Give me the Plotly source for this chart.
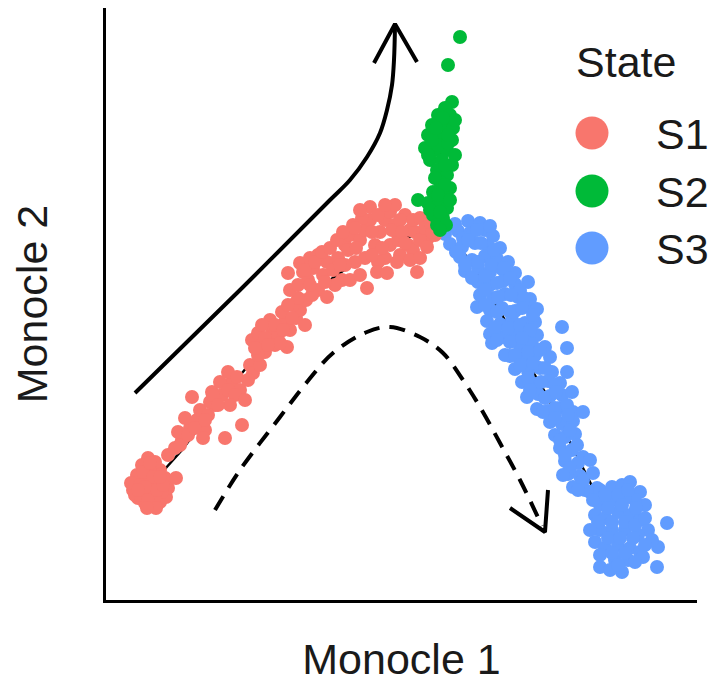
import plotly.graph_objects as go

# ---------------- data (Monocle 1 / Monocle 2 coordinates) ----------------
states = ["S1", "S2", "S3"]
state_colors = ["#F8766D", "#00BA38", "#619CFF"]

s1_x = [33, 38, 45, 52, 60, 66, 68, 65, 60, 55, 48, 42, 37, 31, 45, 52, 58, 47, 40, 50, 62, 55, 43, 53, 35, 76,
        40, 48, 57, 63, 50, 45, 38, 60, 56, 47,
        68, 75, 82, 78, 90, 97, 85, 92, 100, 105, 108, 115, 112, 103,
        80, 88, 95, 105, 110, 122, 132, 140, 128, 150,
        113, 120, 128, 135, 145, 130, 118, 142, 125, 153, 160, 148, 137,
        152, 158, 162, 168, 172, 178, 185, 190, 196, 200, 205, 187, 165, 175, 158, 182, 193, 206, 170, 162,
        155, 165, 175, 183, 192, 180, 168, 198, 188,
        188, 190, 198, 203, 208, 213, 218, 212, 223, 227, 233, 227, 238, 242, 235, 218, 200, 210,
        245, 250, 253, 260, 265, 270, 270, 275, 280, 285, 290, 295, 295, 290, 285, 278, 265, 255, 250, 267,
        277, 287, 260, 245, 298, 300, 305, 310,
        205, 215, 222, 230, 237, 243, 248, 256, 262, 272, 278, 282, 292, 300, 302, 308, 315, 323, 328, 335,
        297, 272, 240, 225, 210, 255, 285, 260,
        313, 320, 317, 313, 320, 327, 325, 332, 338, 330, 310, 320, 305]
s1_y = [110, 102, 97, 95, 98, 103, 112, 122, 130, 138, 142, 135, 125, 117, 120, 110, 117, 108, 115, 130, 108, 103, 128, 123, 105, 122,
        105, 100, 110, 115, 137, 113, 110, 123, 92, 92,
        145, 152, 160, 168, 172, 180, 182, 203, 190, 170, 185, 195, 208, 162,
        155, 165, 172, 180, 198, 205, 218, 210, 228, 235,
        205, 218, 210, 205, 200, 195, 195, 175, 162, 227, 235, 220, 223,
        260, 267, 255, 262, 272, 265, 278, 270, 282, 290, 275, 253, 248, 255, 245, 288, 295, 300, 280, 275,
        252, 262, 275, 270, 282, 257, 255, 302, 295,
        327, 310, 315, 328, 320, 332, 310, 305, 325, 338, 330, 303, 342, 320, 315, 345, 337, 342,
        355, 365, 375, 360, 370, 380, 393, 355, 368, 380, 388, 395, 375, 355, 342, 338, 342, 338, 320, 312,
        328, 327, 325, 335, 360, 345, 385, 370,
        330, 338, 348, 352, 360, 368, 350, 352, 382, 368, 385, 352, 370, 380, 368, 355, 368, 365, 362, 365,
        338, 345, 335, 318, 315, 372, 395, 390,
        380, 382, 328, 350, 360, 353, 372, 368, 370, 378, 340, 342, 357]

s2_x = [360, 348, 352, 345, 338, 350, 332, 344, 353, 328, 340, 352, 325, 335, 347, 355, 330, 342, 352,
        337, 347, 340, 350, 333, 343, 318, 328, 338, 347, 333, 343, 337, 346, 340,
        338, 348, 332, 345, 335, 345, 338, 330, 340, 355, 343, 336, 348, 328, 350]
s2_y = [563, 535, 498, 492, 485, 485, 475, 475, 472, 465, 462, 460, 452, 450, 450, 445, 440, 440, 435,
        430, 425, 418, 412, 408, 405, 400, 397, 395, 392, 385, 382, 375, 375, 370,
        455, 457, 460, 435, 422, 415, 405, 390, 388, 480, 482, 472, 465, 445, 400]

s3_x = [355, 368, 380, 345, 358, 370, 385, 393, 350, 362, 375, 388, 400, 360, 372, 385, 397, 408,
        365, 378, 390, 402, 415, 378, 390, 403, 415, 428, 380, 393, 405, 418, 430,
        377, 390, 402, 415, 428, 437, 387, 400, 412, 425, 435, 390, 403, 415, 427, 437,
        392, 420, 432, 445, 462, 467, 410, 423, 435, 450, 415, 428, 440, 452, 467,
        422, 435, 448, 460, 427, 438, 450, 462, 472, 437, 448, 460, 473, 483,
        450, 462, 473, 455, 465, 475, 460, 472, 483, 465, 478, 490, 468, 480, 493, 473, 485, 497,
        350, 363, 377, 390, 356, 368, 381, 394, 365, 378, 391, 404, 372, 385, 397, 410, 420, 385, 398, 411,
        424, 385, 397, 410, 422, 433, 395, 408, 420, 430, 397, 410, 422, 405, 415, 428, 440,
        420, 433, 445, 428, 441, 455, 430, 445, 456, 443, 455, 467, 455, 468, 460, 470, 465, 477,
        470, 483, 490, 478, 463,
        500, 512, 522, 530, 540, 545, 535, 525, 512, 500, 495, 505, 518, 530, 540, 548, 538, 525,
        512, 500, 495, 505, 518, 530, 540, 543, 528, 515, 500, 522, 510, 567, 558, 557, 552,
        505, 518, 528, 536, 522, 508, 498, 512, 525, 535, 545, 508, 520, 533, 545, 500, 512, 525, 535, 518, 490, 493]
s3_y = [376, 379, 377, 366, 369, 367, 370, 364, 356, 353, 357, 354, 352, 343, 340, 344, 341, 338,
        329, 332, 328, 331, 327, 318, 315, 319, 316, 318, 305, 302, 306, 303, 301,
        293, 290, 292, 289, 293, 291, 279, 276, 280, 277, 278, 266, 263, 267, 264, 265,
        257, 254, 256, 253, 273, 252, 244, 241, 245, 243, 231, 229, 232, 228, 228,
        218, 216, 219, 217, 203, 206, 204, 205, 208, 191, 189, 192, 188, 188,
        178, 176, 179, 165, 163, 166, 152, 150, 143, 139, 137, 140, 126, 124, 127, 113, 110, 112,
        374, 362, 370, 374, 348, 360, 357, 350, 335, 338, 335, 332, 322, 324, 317, 322, 310, 310, 303, 305,
        302, 295, 288, 288, 292, 285, 272, 272, 275, 270, 260, 258, 262, 245, 245, 248, 250,
        235, 237, 232, 222, 218, 215, 210, 202, 208, 188, 192, 195, 182, 185, 160, 170, 145, 155,
        132, 120, 108, 110, 125,
        110, 113, 115, 118, 108, 95, 100, 102, 100, 95, 85, 82, 88, 85, 80, 70, 65, 70,
        70, 70, 58, 52, 55, 52, 48, 43, 40, 40, 33, 28, 30, 77, 53, 33, 60,
        105, 105, 110, 92, 95, 92, 78, 78, 78, 75, 82, 62, 62, 62, 55, 45, 47, 47, 38, 35, 70, 100]

# principal trajectory (tree backbone)
traj_s1_x = [48, 82, 118, 147, 170, 220, 280, 340]
traj_s1_y = [112, 150, 198, 233, 257, 313, 355, 372]
traj_s3_x = [340, 370, 395, 406, 427, 445, 463, 493, 515]
traj_s3_y = [372, 340, 297, 278, 238, 208, 172, 112, 75]
traj_s2_x = [340, 338, 342, 348]
traj_s2_y = [372, 420, 460, 495]

# guide arrows drawn over the plot
solid_arrow_x = [35, 140, 230, 250, 267, 280, 287, 292, 294, 295]
solid_arrow_y = [207, 310, 400, 420, 443, 467, 490, 515, 540, 574]
solid_head_x = [274, 295, 317]
solid_head_y = [537, 576, 538]
dashed_arrow_x = [115, 140, 180, 207, 233, 267, 290, 320, 343, 363, 380, 400, 420, 442]
dashed_arrow_y = [90, 130, 183, 218, 247, 268, 273, 263, 247, 220, 193, 157, 120, 74]
dashed_head_x = [410, 445, 448]
dashed_head_y = [92, 68, 110]

FONT = "Liberation Sans, Arial, Helvetica, sans-serif"
TXT = "#1a1a1a"
MS = 14

fig = go.Figure()

# trajectory lines (under points)
for tx, ty in [(traj_s1_x, traj_s1_y), (traj_s3_x, traj_s3_y), (traj_s2_x, traj_s2_y)]:
    fig.add_trace(go.Scatter(x=tx, y=ty, mode="lines", line=dict(color="black", width=2.5),
                             showlegend=False, hoverinfo="skip"))

series = {"S1": (s1_x, s1_y), "S2": (s2_x, s2_y), "S3": (s3_x, s3_y)}
for name in ["S3", "S1", "S2"]:
    i = states.index(name)
    sx, sy = series[name]
    fig.add_trace(go.Scatter(x=sx, y=sy, mode="markers", name=name,
                             marker=dict(color=state_colors[i], size=MS, line=dict(width=0), opacity=1),
                             showlegend=False))

# guide arrows
fig.add_trace(go.Scatter(x=solid_arrow_x, y=solid_arrow_y, mode="lines",
                         line=dict(color="black", width=4, shape="spline", smoothing=1.0),
                         showlegend=False, hoverinfo="skip"))
fig.add_trace(go.Scatter(x=solid_head_x, y=solid_head_y, mode="lines",
                         line=dict(color="black", width=4), showlegend=False, hoverinfo="skip"))
fig.add_trace(go.Scatter(x=dashed_arrow_x, y=dashed_arrow_y, mode="lines",
                         line=dict(color="black", width=4, shape="spline", smoothing=1.0, dash="16px,10px"),
                         showlegend=False, hoverinfo="skip"))
fig.add_trace(go.Scatter(x=dashed_head_x, y=dashed_head_y, mode="lines",
                         line=dict(color="black", width=4), showlegend=False, hoverinfo="skip"))

# page has an 8px body margin: figure is 708x675, plot area spans screen x 106-697, y 8-600
FW, FH = 708, 675
L, T, W, H = 98, 0, 591, 592


def px2paper(sx, sy):
    # screen pixel -> paper coordinates
    return (sx - 8 - L) / W, (T + H - (sy - 8)) / H


shapes = []
annotations = []
key_py = [133, 191, 248]
for i, name in enumerate(states):
    kx, ky = px2paper(592, key_py[i])
    shapes.append(dict(type="circle", xref="paper", yref="paper", xsizemode="pixel", ysizemode="pixel",
                       xanchor=kx, yanchor=ky, x0=-16.5, x1=16.5, y0=-16.5, y1=16.5,
                       fillcolor=state_colors[i], line=dict(width=0)))
    tx, ty = px2paper(654, key_py[i] + 1)
    annotations.append(dict(text=name, xref="paper", yref="paper", x=tx, y=ty, xanchor="left",
                            yanchor="middle", showarrow=False, font=dict(family=FONT, size=43, color=TXT)))
sx_, sy_ = px2paper(574, 62)
annotations.append(dict(text="State", xref="paper", yref="paper", x=sx_, y=sy_, xanchor="left",
                        yanchor="middle", showarrow=False, font=dict(family=FONT, size=43, color=TXT)))

fig.update_layout(
    width=FW, height=FH,
    margin=dict(l=L, r=FW - L - W, t=T, b=FH - T - H, autoexpand=False),
    paper_bgcolor="white", plot_bgcolor="white",
    showlegend=False,
    shapes=shapes, annotations=annotations,
    xaxis=dict(range=[6, 597], showgrid=False, zeroline=False, showticklabels=False, ticks="",
               showline=True, linecolor="black", linewidth=3,
               title=dict(text="Monocle 1", font=dict(family=FONT, size=43, color=TXT), standoff=42)),
    yaxis=dict(range=[0, 592], showgrid=False, zeroline=False, showticklabels=False, ticks="",
               showline=True, linecolor="black", linewidth=3,
               title=dict(text="Monocle 2", font=dict(family=FONT, size=43, color=TXT), standoff=43)),
)

fig.write_html("out.html")
